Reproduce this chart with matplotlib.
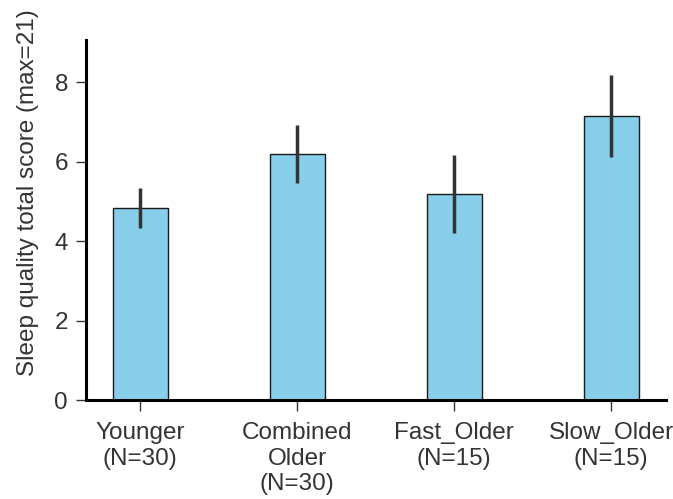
import matplotlib
matplotlib.use("Agg")
import matplotlib.pyplot as plt

groups = ["Younger\n(N=30)", "Combined\nOlder\n(N=30)", "Fast_Older\n(N=15)", "Slow_Older\n(N=15)"]
means = [4.83, 6.19, 5.18, 7.14]
errors = [0.50, 0.72, 0.98, 1.03]
yticks = [0, 2, 4, 6, 8]

plt.rcParams["font.family"] = ["Liberation Sans", "DejaVu Sans"]

fig = plt.figure(figsize=(6.73, 4.99), dpi=100)
ax = fig.add_axes([0.128, 0.198, 0.862, 0.722])

x = list(range(len(groups)))
ax.bar(x, means, width=0.35, color="#87CEEB", edgecolor="#1a1a1a", linewidth=1.0, zorder=2)
ax.errorbar(x, means, yerr=errors, fmt="none", ecolor="#333333", elinewidth=2.5, capsize=0, zorder=3)

ax.set_xlim(-0.344, 3.35)
ax.set_ylim(0, 9.06)
ax.set_yticks(yticks)
ax.set_xticks(x)
ax.set_xticklabels(groups, fontsize=17.5, color="#333333", linespacing=1.2)
ax.tick_params(axis="y", labelsize=17.5, labelcolor="#333333", length=7, width=1, color="#333333", pad=6)
ax.tick_params(axis="x", length=8, width=1, color="#333333", pad=8)
ax.set_ylabel("Sleep quality total score (max=21)", fontsize=17.5, color="#333333")
ax.yaxis.set_label_coords(-0.082, 0.575)

for side in ["top", "right"]:
    ax.spines[side].set_visible(False)
for side in ["left", "bottom"]:
    ax.spines[side].set_linewidth(2.2)
    ax.spines[side].set_color("black")

fig.savefig("out.png", dpi=100)
